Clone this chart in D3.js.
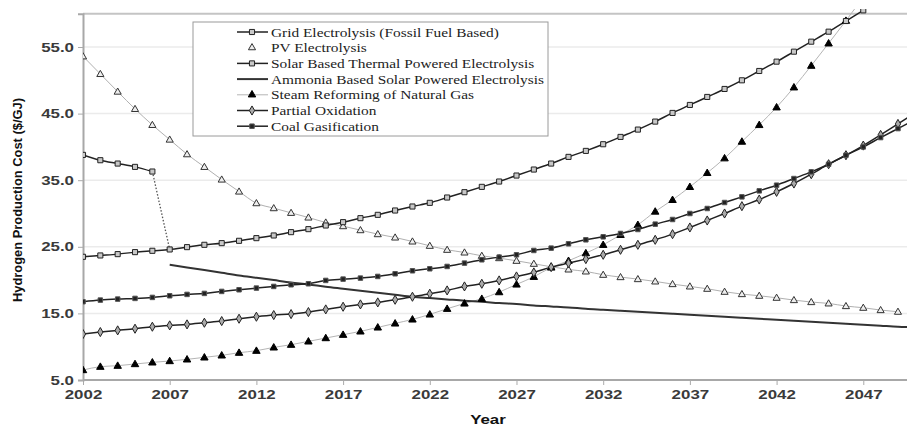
<!DOCTYPE html>
<html><head><meta charset="utf-8">
<script src="https://cdn.jsdelivr.net/npm/d3@7"></script>
<style>body{margin:0;background:#fff}svg{display:block}</style>
</head><body><svg id="c" width="907" height="431"></svg>
<script>
// ---- data ----
const seriesNames = ["Grid Electrolysis (Fossil Fuel Based)","PV Electrolysis","Solar Based Thermal Powered Electrolysis","Ammonia Based Solar Powered Electrolysis","Steam Reforming of Natural Gas","Partial Oxidation","Coal Gasification"];
const gridStart = 2002;
const gridElectrolysis = [23.5,23.7,23.9,24.2,24.4,24.6,24.95,25.3,25.55,25.9,26.3,26.7,27.2,27.65,28.2,28.7,29.3,29.8,30.45,31.05,31.6,32.4,33.2,34.0,34.8,35.7,36.6,37.5,38.5,39.4,40.4,41.5,42.6,43.8,45.1,46.3,47.5,48.7,50.0,51.4,52.8,54.3,55.8,57.3,58.9,60.5];
const pvStart = 2002;
const pvElectrolysis = [53.6,50.95,48.3,45.7,43.3,41.1,38.9,37.0,35.1,33.3,31.55,30.8,30.1,29.4,28.65,28.1,27.5,26.9,26.4,25.8,25.15,24.55,24.15,23.65,23.3,22.9,22.45,22.0,21.6,21.3,20.8,20.45,20.15,19.8,19.4,19.05,18.7,18.25,17.9,17.65,17.35,17.0,16.7,16.5,16.1,15.85,15.5,15.25];
const solarStart = 2002;
const solarThermal = [38.8,38.0,37.5,37.0,36.3];
const solarDropYear = 2007;
const solarDropValue = 24.6;
const ammoniaStart = 2007;
const ammoniaSolar = [22.3,21.9,21.5,21.1,20.7,20.35,20.0,19.65,19.35,19.0,18.7,18.4,18.1,17.8,17.5,17.3,17.1,16.9,16.75,16.55,16.4,16.2,16.05,15.9,15.7,15.55,15.4,15.25,15.1,14.95,14.8,14.65,14.5,14.35,14.2,14.05,13.9,13.75,13.6,13.45,13.3,13.15,13.0,12.9];
const steamStart = 2002;
const steamReforming = [6.5,7.0,7.15,7.4,7.65,7.85,8.1,8.4,8.7,9.1,9.4,9.9,10.3,10.8,11.3,11.8,12.3,12.9,13.5,14.1,14.85,15.7,16.5,17.2,18.2,19.35,20.5,21.9,22.9,24.05,25.3,26.8,28.3,30.3,32.05,34.0,36.1,38.3,40.8,43.3,45.95,48.95,52.2,55.55,58.95,62.5];
const partialStart = 2002;
const partialOxidation = [11.9,12.2,12.45,12.7,13.0,13.2,13.35,13.6,13.85,14.2,14.5,14.75,14.9,15.2,15.6,16.0,16.35,16.65,17.05,17.5,17.95,18.45,19.05,19.45,19.95,20.55,21.15,21.95,22.55,23.15,23.8,24.55,25.3,26.05,26.9,27.9,28.95,30.0,31.1,32.1,33.25,34.5,35.9,37.4,38.75,40.2,41.8,43.45,45.1];
const coalStart = 2002;
const coalGasification = [16.75,17.0,17.15,17.25,17.4,17.65,17.85,18.0,18.3,18.55,18.8,19.05,19.3,19.45,19.95,20.15,20.3,20.55,20.95,21.4,21.7,22.05,22.55,23.05,23.45,23.8,24.45,24.8,25.45,26.05,26.5,27.0,27.6,28.4,29.1,30.0,30.75,31.65,32.5,33.4,34.25,35.25,36.25,37.4,38.75,40.0,41.4,42.75,44.1];
const xTicks = [2002,2007,2012,2017,2022,2027,2032,2037,2042,2047];
const yTicks = [5,15,25,35,45,55];
const xTitle = "Year";
const yTitle = "Hydrogen Production Cost ($/GJ)";

// ---- chart ----
const svg = d3.select("#c");
const x = d3.scaleLinear().domain([2002,2050]).range([83, 915.3]);
const y = d3.scaleLinear().domain([5,60]).range([380, 13.7]);
const SX = 1.3; // horizontal stretch of text
const SANS = "'Liberation Sans', Arial, sans-serif";
const SERIF = "'Liberation Serif', 'Times New Roman', serif";

const toPts = (arr, start) => arr.map((v,i)=>({x:start+i, y:v}));
const line = d3.line().x(d=>x(d.x)).y(d=>y(d.y)).curve(d3.curveMonotoneX);

svg.append("defs").append("clipPath").attr("id","clip")
  .append("rect").attr("x",83).attr("y",9).attr("width",830).attr("height",372);

// gridlines
svg.append("g").selectAll("line").data(yTicks.filter(t=>t>5)).join("line")
  .attr("x1",84).attr("x2",907).attr("y1",d=>y(d)).attr("y2",d=>y(d))
  .attr("stroke","#ebebeb").attr("stroke-width",1.5);
// top border
svg.append("line").attr("x1",83).attr("x2",907).attr("y1",y(60)).attr("y2",y(60))
  .attr("stroke","#c4c4c4").attr("stroke-width",2);

// axes
const xAxis = svg.append("g").attr("transform","translate(0,380)")
  .call(d3.axisBottom(x).tickValues(xTicks).tickFormat(d3.format("d")).tickSize(5).tickPadding(5));
const yAxis = svg.append("g").attr("transform","translate(83,0)")
  .call(d3.axisLeft(y).tickValues(yTicks).tickFormat(d3.format(".1f")).tickSize(5).tickPadding(4));
[xAxis,yAxis].forEach(a=>{
  a.select(".domain").attr("stroke","#a8a8a8").attr("stroke-width",2);
  a.selectAll(".tick line").attr("stroke","#aaa");
  a.selectAll("text").attr("font-family",SANS)
    .attr("font-weight","bold").attr("font-size",13).attr("fill","#3a3a3a");
});
xAxis.select(".domain").attr("d","M83,0H907");
xAxis.selectAll(".tick text").attr("transform",`scale(${SX},1)`);
yAxis.selectAll(".tick text").attr("x",-9/SX).attr("transform",`scale(${SX},1)`);

// titles
svg.append("text").attr("transform",`translate(488,424) scale(${SX},1)`)
  .attr("text-anchor","middle").attr("font-family",SANS)
  .attr("font-weight","bold").attr("font-size",13).attr("fill","#111").text(xTitle);
svg.append("text").attr("transform",`translate(22,200) rotate(-90)`)
  .attr("text-anchor","middle").attr("font-family",SANS)
  .attr("font-weight","bold").attr("font-size",12.5).attr("fill","#111")
  .attr("textLength",204).attr("lengthAdjust","spacingAndGlyphs").text(yTitle);

// series styles
const styles = {
  grid:{stroke:"#222",sw:1.5,sym:d3.symbolSquare,size:26,fill:"#c8c8c8",ms:"#222"},
  pv:{stroke:"#b0b0b0",sw:1,sym:d3.symbolTriangle,size:22,fill:"#eee",ms:"#333"},
  solar:{stroke:"#222",sw:1.5,sym:d3.symbolSquare,size:26,fill:"#c8c8c8",ms:"#222"},
  ammonia:{stroke:"#333",sw:2,sym:null},
  steam:{stroke:"#b5b5b5",sw:1,sym:d3.symbolTriangle,size:24,fill:"#000",ms:"#000"},
  partial:{stroke:"#222",sw:1.5,sym:d3.symbolDiamond,size:24,fill:"#aaa",ms:"#222"},
  coal:{stroke:"#222",sw:1.5,sym:d3.symbolSquare,size:20,fill:"#222",ms:"#555"}
};
const series = [
  {key:"pv",pts:toPts(pvElectrolysis,pvStart)},
  {key:"steam",pts:toPts(steamReforming,steamStart)},
  {key:"ammonia",pts:toPts(ammoniaSolar,ammoniaStart)},
  {key:"partial",pts:toPts(partialOxidation,partialStart)},
  {key:"coal",pts:toPts(coalGasification,coalStart)},
  {key:"solar",pts:toPts(solarThermal,solarStart)},
  {key:"grid",pts:toPts(gridElectrolysis,gridStart)}
];
const plot = svg.append("g").attr("clip-path","url(#clip)");
// solar dotted drop
const last = solarThermal.length-1;
plot.append("path").attr("d", d3.line().x(d=>x(d.x)).y(d=>y(d.y))([{x:solarStart+last,y:solarThermal[last]},{x:solarDropYear,y:solarDropValue}]))
  .attr("fill","none").attr("stroke","#555").attr("stroke-width",1.3).attr("stroke-dasharray","1.5,1.8");
series.forEach(s=>{
  const st = styles[s.key];
  plot.append("path").attr("d",line(s.pts)).attr("fill","none")
    .attr("stroke",st.stroke).attr("stroke-width",st.sw);
});
series.forEach(s=>{
  const st = styles[s.key];
  if(!st.sym) return;
  plot.append("g").selectAll("path").data(s.pts).join("path")
    .attr("d",d3.symbol().type(st.sym).size(st.size))
    .attr("transform",d=>`translate(${x(d.x)},${y(d.y)+(st.sym===d3.symbolTriangle?0.5:0)})`)
    .attr("fill",st.fill).attr("stroke",st.ms).attr("stroke-width",1);
});

// legend
const keys = ["grid","pv","solar","ammonia","steam","partial","coal"];
const lg = svg.append("g");
lg.append("rect").attr("x",193).attr("y",22).attr("width",355).attr("height",114)
  .attr("fill","#fff").attr("stroke","#9a9a9a").attr("stroke-width",1);
const rows = lg.selectAll("g.row").data(keys).join("g").attr("class","row")
  .attr("transform",(d,i)=>`translate(0,${32+i*15.7})`);
rows.each(function(k){
  const g = d3.select(this), st = styles[k];
  if(k!=="pv") g.append("line").attr("x1",237).attr("x2",268).attr("y1",0).attr("y2",0)
    .attr("stroke",st.stroke).attr("stroke-width",st.sw);
  if(st.sym) g.append("path").attr("d",d3.symbol().type(st.sym).size(st.size))
    .attr("transform","translate(252,0)").attr("fill",st.fill).attr("stroke",st.ms).attr("stroke-width",1);
});
const texts = rows.append("text").attr("x",271).attr("y",4.5)
  .style("font-family",SERIF).attr("font-size",13)
  .attr("fill","#222").text((d,i)=>seriesNames[i]);
let maxW = 0; texts.each(function(){maxW=Math.max(maxW,this.getComputedTextLength());});
const k = 273/maxW;
texts.each(function(){const w=this.getComputedTextLength(); d3.select(this).attr("textLength",w*k).attr("lengthAdjust","spacingAndGlyphs");});
</script></body></html>
